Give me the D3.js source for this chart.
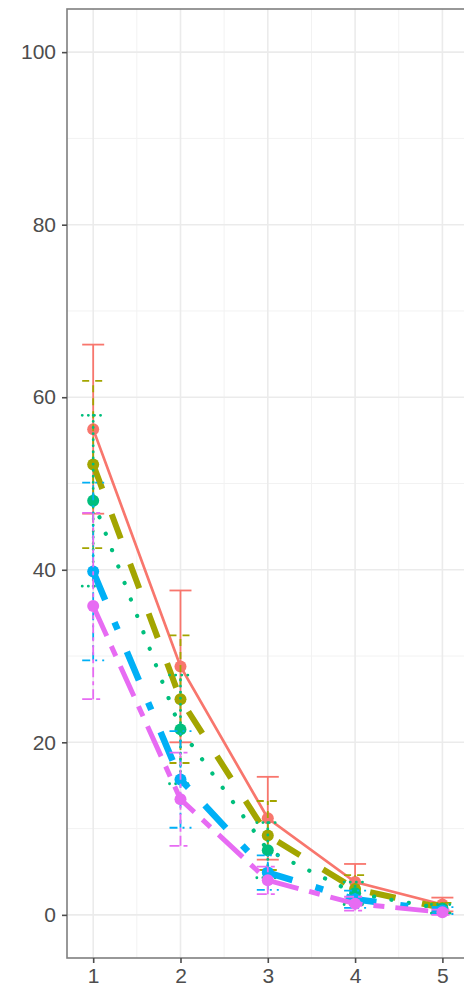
<!DOCTYPE html>
<html>
<head>
<meta charset="utf-8">
<script src="https://cdn.jsdelivr.net/npm/d3@7"></script>
<style>
  body { margin: 0; background: #fff; }
  svg { display: block; font-family: "Liberation Sans", Arial, sans-serif; }
</style>
</head>
<body>
<script>
// data
const xValues = [1, 2, 3, 4, 5];
const seriesNames = ["A", "B", "C", "D", "E"];
const seriesColors = ["#F8766D", "#A3A500", "#00BF7D", "#00B0F6", "#E76BF3"];
const meanA = [56.3, 28.8, 11.2, 3.8, 1.2];
const meanB = [52.2, 25.0, 9.2, 3.0, 0.8];
const meanC = [48.0, 21.5, 7.5, 2.5, 0.7];
const meanD = [39.8, 15.7, 4.9, 1.8, 0.5];
const meanE = [35.8, 13.4, 4.0, 1.3, 0.3];
const errA = [9.8, 8.8, 4.8, 2.1, 0.8];
const errB = [9.7, 7.4, 4.0, 1.6, 0.6];
const errC = [9.9, 6.3, 3.2, 1.3, 0.5];
const errD = [10.3, 5.6, 2.0, 1.0, 0.4];
const errE = [10.8, 5.4, 1.6, 0.8, 0.3];
const yTicks = [0, 20, 40, 60, 80, 100];

const W = 464, H = 990;
const margin = {left: 67, top: 9, bottom: 32};
const unitX = 87.3;

let svg, x, y;

setupSvg();
setupScales();
drawGrid();
drawSeries();
drawAxes();

function setupSvg() {
    svg = d3.select("body").append("svg")
        .attr("width", W)
        .attr("height", H);
}

function setupScales() {
    x = d3.scaleLinear()
        .domain([0.7, 7.3])
        .range([margin.left, margin.left + 6.6 * unitX]);
    y = d3.scaleLinear()
        .domain([-5, 105])
        .range([H - margin.bottom, margin.top]);
}

function drawGrid() {
    const g = svg.append("g");
    const minorX = d3.range(1.5, 7.3, 1);
    const minorY = d3.range(10, 101, 20);
    g.selectAll(".mx").data(minorX).enter().append("line")
        .attr("x1", d => x(d)).attr("x2", d => x(d))
        .attr("y1", y(-5)).attr("y2", y(105))
        .attr("stroke", "#F2F2F2").attr("stroke-width", 1);
    g.selectAll(".my").data(minorY).enter().append("line")
        .attr("x1", x(0.7)).attr("x2", x(7.3))
        .attr("y1", d => y(d)).attr("y2", d => y(d))
        .attr("stroke", "#F2F2F2").attr("stroke-width", 1);
    g.selectAll(".gx").data(d3.range(1, 8)).enter().append("line")
        .attr("x1", d => x(d)).attr("x2", d => x(d))
        .attr("y1", y(-5)).attr("y2", y(105))
        .attr("stroke", "#EBEBEB").attr("stroke-width", 1.6);
    g.selectAll(".gy").data(yTicks).enter().append("line")
        .attr("x1", x(0.7)).attr("x2", x(7.3))
        .attr("y1", d => y(d)).attr("y2", d => y(d))
        .attr("stroke", "#EBEBEB").attr("stroke-width", 1.6);
}

function drawSeries() {
    const means = [meanA, meanB, meanC, meanD, meanE];
    const errs = [errA, errB, errC, errD, errE];
    // line styles per group (solid, dashed, dotted, dotdash, twodash)
    const lineW = [2.7, 6, 4.2, 6.5, 5];
    const lineDash = [null, "26,27", "0.1,17.5", "31,24,8,24", "33,11,11,11"];
    const barDash = [null, "7,6", "0.1,6", "8,5,2,5", "10,4,4,4"];
    const caps = [null, "butt", "round", "butt", "butt"];

    const line = d3.line().x(d => x(d.x)).y(d => y(d.v));

    seriesNames.forEach((name, i) => {
        const pts = xValues.map((xv, j) => ({x: xv, v: means[i][j], e: errs[i][j]}));
        const g = svg.append("g").attr("class", "series-" + name);
        const col = seriesColors[i];
        const bw = i == 2 ? 2.8 : 1.8;

        // error bars
        const eb = g.selectAll(".eb").data(pts).enter().append("g");
        eb.append("line")
            .attr("x1", d => x(d.x)).attr("x2", d => x(d.x))
            .attr("y1", d => y(d.v - d.e)).attr("y2", d => y(d.v + d.e))
            .attr("stroke", col).attr("stroke-width", bw)
            .attr("stroke-linecap", caps[i])
            .attr("stroke-dasharray", barDash[i]);
        [-1, 1].forEach(s => {
            eb.append("line")
                .attr("x1", d => x(d.x) - 11).attr("x2", d => x(d.x) + 11)
                .attr("y1", d => y(d.v + s * d.e)).attr("y2", d => y(d.v + s * d.e))
                .attr("stroke", col).attr("stroke-width", bw)
                .attr("stroke-linecap", caps[i])
                .attr("stroke-dasharray", barDash[i]);
        });

        g.append("path")
            .datum(pts)
            .attr("d", line)
            .attr("fill", "none")
            .attr("stroke", col)
            .attr("stroke-width", lineW[i])
            .attr("stroke-linecap", caps[i])
            .attr("stroke-dasharray", lineDash[i]);

        g.selectAll("circle").data(pts).enter().append("circle")
            .attr("cx", d => x(d.x)).attr("cy", d => y(d.v))
            .attr("r", 6)
            .attr("fill", col);
    });
}

function drawAxes() {
    // panel border
    svg.append("rect")
        .attr("x", x(0.7)).attr("y", y(105))
        .attr("width", x(7.3) - x(0.7)).attr("height", y(-5) - y(105))
        .attr("fill", "none").attr("stroke", "#7F7F7F").attr("stroke-width", 1.6);

    const yAxis = svg.append("g")
        .attr("transform", `translate(${x(0.7)},0)`)
        .call(d3.axisLeft(y).tickValues(yTicks).tickSize(5).tickPadding(6));
    const xAxis = svg.append("g")
        .attr("transform", `translate(0,${y(-5)})`)
        .call(d3.axisBottom(x).tickValues(xValues).tickFormat(d3.format("d")).tickSize(5).tickPadding(5));

    [yAxis, xAxis].forEach(a => {
        a.select(".domain").remove();
        a.selectAll(".tick line").attr("stroke", "#4D4D4D").attr("stroke-width", 1.6);
        a.selectAll(".tick text")
            .attr("fill", "#4D4D4D")
            .style("font-size", "21px")
            .style("font-family", "'Liberation Sans', Arial, sans-serif");
    });
}
</script>
</body>
</html>
